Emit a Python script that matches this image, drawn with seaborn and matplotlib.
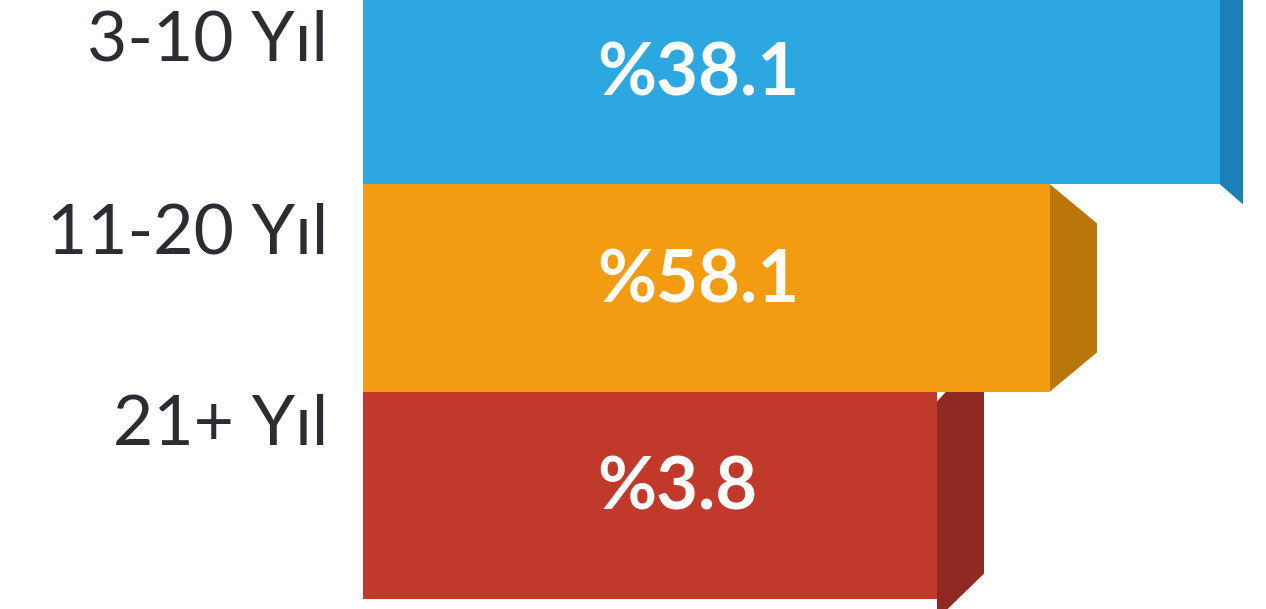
import matplotlib
matplotlib.use("Agg")
import pandas as pd
import matplotlib.pyplot as plt
import seaborn as sns

# data
categories = ["3-10 Yıl", "11-20 Yıl", "21+ Yıl"]
values = [38.1, 58.1, 3.8]
# bars are decorative, their lengths are not the percentages
bar_len = [857, 687, 574]
bar_colors = ["#2DA7E0", "#F39C12", "#C0392B"]
side_colors = ["#1B80B5", "#B9770A", "#8E2A22"]

df = pd.DataFrame({"cat": categories, "len": bar_len})

sns.set_style("white")
plt.rcParams["font.family"] = ["Lato", "DejaVu Sans"]

fig = plt.figure(figsize=(12.66, 6.09), dpi=100)
ax = fig.add_axes([363 / 1266, 0, 903 / 1266, 1])

sns.barplot(data=df, x="len", y="cat", hue="cat", palette=bar_colors,
            orient="h", width=1.0, saturation=1, legend=False, ax=ax,
            linewidth=0, zorder=1)

ax.set_xlim(0, 903)
ax.set_ylim(2.55, -0.39)

#Side faces for the 3d look
px = 1 / 207
L0 = bar_len[0]
ax.fill([L0, L0 + 23, L0 + 23, L0], [-1, -1, 0.5 + 20 * px, 0.5],
        color=side_colors[0], zorder=0.5, lw=0)
L1 = bar_len[1]
ax.fill([L1, L1 + 47, L1 + 47, L1], [0.5, 0.5 + 39 * px, 1.5 - 39 * px, 1.5],
        color=side_colors[1], zorder=0.5, lw=0)
L2 = bar_len[2]
ax.fill([L2, L2 + 47, L2 + 47, L2], [1.5 + 10 * px, 1.3, 2.5 - 25 * px, 2.6],
        color=side_colors[2], zorder=0.5, lw=0)

#Labels and values
label_off = [-0.19, -0.26, -0.335]
for i, (cat, val) in enumerate(zip(categories, values)):
    ax.text(-35, i + label_off[i], cat, ha="right", va="center",
            fontsize=50, color="#2B2D33", fontweight="normal", clip_on=False)
    ax.text(234, i - 0.03, "%" + str(val), ha="left", va="center",
            fontsize=52, color="white", fontweight="bold", zorder=3)

ax.set_xlabel("")
ax.set_ylabel("")
ax.set_xticks([])
ax.set_yticks([])
sns.despine(ax=ax, left=True, bottom=True)

fig.savefig("out.png", dpi=100)
plt.close()
